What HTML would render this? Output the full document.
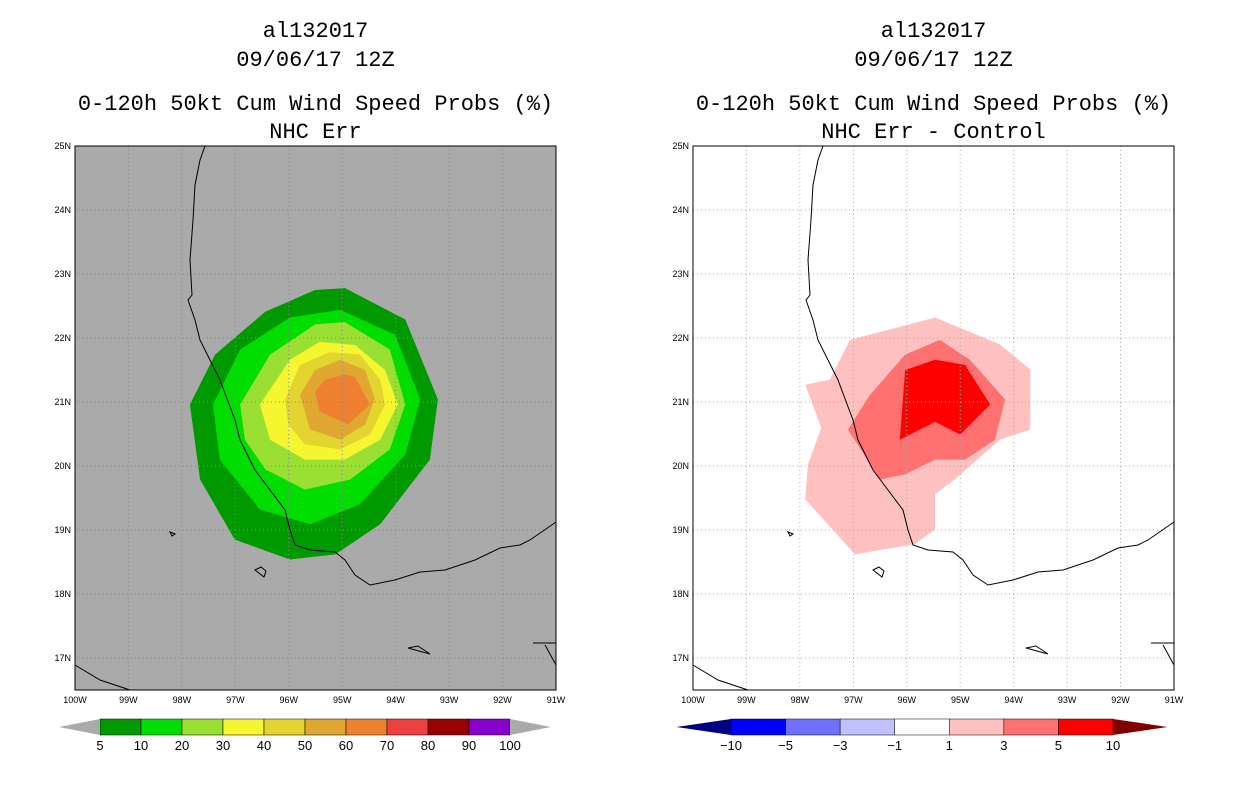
<!DOCTYPE html>
<html><head><meta charset="utf-8">
<style>
body{margin:0;background:#fff;width:1236px;height:800px;overflow:hidden;font-family:"Liberation Sans",sans-serif}
svg{position:absolute;left:0;top:0}
</style></head>
<body>
<svg id="s" width="1236" height="800"></svg>
<script>
// ---- data ----
const lonTicks=[100,99,98,97,96,95,94,93,92,91];
const latTicks=[25,24,23,22,21,20,19,18,17];
const leftLevels=[5,10,20,30,40,50,60,70,80,90,100];
const leftColors=["#009900","#00dd00","#99e033","#f5f530","#e3d430","#e0a830","#ee8030","#ee4040","#990000","#8800cc"];
const rightLevels=[-10,-5,-3,-1,1,3,5,10];
const rightColors=["#0000ff","#7070ff","#c0c0ff","#ffffff","#ffc0c0","#ff7070","#ff0000"];
// probability contour polygons [lon,lat]
const leftPolys=[
 {c:"#009900",p:[[-97.85,20.96],[-97.38,21.74],[-96.44,22.41],[-95.51,22.75],[-94.95,22.78],[-93.82,22.29],[-93.21,21.04],[-93.36,20.10],[-94.29,19.09],[-95.13,18.62],[-95.98,18.54],[-97.01,18.85],[-97.66,19.79]]},
 {c:"#00dd00",p:[[-97.42,20.96],[-96.91,21.82],[-95.98,22.32],[-95.04,22.44],[-94.01,22.05],[-93.54,21.04],[-93.82,20.18],[-94.67,19.40],[-95.60,19.09],[-96.54,19.32],[-97.29,20.10]]},
 {c:"#99e033",p:[[-96.91,20.96],[-96.35,21.74],[-95.51,22.21],[-94.95,22.25],[-94.11,21.82],[-93.82,20.96],[-94.11,20.26],[-94.85,19.79],[-95.70,19.63],[-96.44,19.95],[-96.82,20.41]]},
 {c:"#f5f530",p:[[-96.54,20.96],[-95.98,21.66],[-95.42,21.94],[-94.76,21.89],[-94.20,21.50],[-93.96,20.96],[-94.29,20.41],[-94.95,20.10],[-95.70,20.10],[-96.35,20.41]]},
 {c:"#e3d430",p:[[-96.07,21.04],[-95.79,21.58],[-95.23,21.78],[-94.67,21.74],[-94.29,21.35],[-94.20,20.96],[-94.48,20.49],[-95.04,20.26],[-95.70,20.34],[-96.01,20.65]]},
 {c:"#e0a830",p:[[-95.79,21.11],[-95.51,21.50],[-95.04,21.66],[-94.57,21.50],[-94.39,21.04],[-94.57,20.65],[-95.04,20.41],[-95.60,20.57]]},
 {c:"#ee8030",p:[[-95.51,21.16],[-95.32,21.35],[-94.95,21.43],[-94.76,21.39],[-94.48,20.96],[-94.89,20.65],[-95.42,20.85]]}
];
const rightPolys=[
 {c:"#ffc0c0",p:[[-97.90,21.27],[-97.44,21.35],[-97.06,21.97],[-95.47,22.32],[-94.26,21.90],[-93.69,21.51],[-93.69,20.57],[-94.26,20.41],[-95.10,19.79],[-95.47,19.56],[-95.47,19.01],[-95.85,18.78],[-96.97,18.62],[-97.90,19.48],[-97.85,20.02],[-97.60,20.60]]},
 {c:"#ff7070",p:[[-97.10,20.57],[-96.69,21.11],[-96.03,21.74],[-95.38,21.97],[-94.82,21.66],[-94.16,21.04],[-94.35,20.41],[-94.91,20.10],[-95.47,20.10],[-96.03,19.87],[-96.50,19.79]]},
 {c:"#ff0000",p:[[-96.13,20.41],[-96.03,21.50],[-95.47,21.66],[-94.91,21.58],[-94.44,20.96],[-95.00,20.49],[-95.47,20.69]]}
];
// basemap coastline (panel-relative pixels)
const coast=[[130,0],[125,14],[120,39],[118,74],[115,114],[117,149],[113,154],[120,174],[125,194],[135,214],[145,234],[160,274],[165,294],[180,324],[195,344],[210,364],[215,384],[220,399],[235,404],[260,406],[270,414],[280,429],[295,439],[320,434],[345,426],[370,424],[400,414],[425,402],[445,399],[455,394],[481,376]];
const coast2=[[0,519],[25,534],[55,544]];
const coast3=[[458,497],[481,497]];
const coast4=[[470,499],[481,519]];

// ---- drawing ----
const S=document.getElementById('s');const NS="http://www.w3.org/2000/svg";
function el(t,a,p){const e=document.createElementNS(NS,t);for(const k in a)e.setAttribute(k,a[k]);(p||S).appendChild(e);return e;}
function txt(x,y,s,size,anchor,name,fam){const t=el('text',{x:x,y:y,'font-size':size,'text-anchor':anchor||'middle',fill:'#000','font-family':fam||'"Liberation Sans",sans-serif'});t.textContent=s;return t;}
const W=481,H=544,Y0=146;
const MONO='"Liberation Mono",monospace';
function panel(X0,bg,polys,titles,name,gridCol){
 const g=el('g',{});
 const xs=lon=>X0+(lon+100)/9*W, ys=lat=>Y0+(25-lat)/8.5*H;
 el('rect',{x:X0,y:Y0,width:W,height:H,fill:bg},g);
 polys.forEach((pp,i)=>{const pg=el('polygon',{points:pp.p.map(q=>xs(q[0])+','+ys(q[1])).join(' '),fill:pp.c},g);});
 lonTicks.forEach(l=>{const x=xs(-l);if(l!=100&&l!=91)el('line',{x1:x,y1:Y0,x2:x,y2:Y0+H,stroke:gridCol,'stroke-dasharray':'1,3'},g);
  txt(x,Y0+H+13,l+'W',9,'middle','lon-label-'+l);});
 latTicks.forEach(l=>{const y=ys(l);if(l!=25)el('line',{x1:X0,y1:y,x2:X0+W,y2:y,stroke:gridCol,'stroke-dasharray':'1,3'},g);
  txt(X0-4,y+3,l+'N',9,'end','lat-label-'+l);});
 [coast,coast2,coast3,coast4].forEach(c=>{el('polyline',{points:c.map(q=>(X0+q[0])+','+(Y0+q[1])).join(' '),fill:'none',stroke:'#000','stroke-width':1},g);});
 el('path',{d:`M${X0+180} ${Y0+424} l6 -3 l5 4 l-2 6 z M${X0+95} ${Y0+386} l5 2 l-3 2 z M${X0+333} ${Y0+502} l10 -2 l12 8 z`,fill:'none',stroke:'#000'},g);
 el('rect',{x:X0,y:Y0,width:W,height:H,fill:'none',stroke:'#000'},g);
 const cx=X0+W/2;
 titles.forEach((t,i)=>txt(cx,[37,66,110,138][i],t,22,'middle','title-line-'+i,MONO));
}
panel(75,'#aaaaaa',leftPolys,['al132017','09/06/17 12Z','0-120h 50kt Cum Wind Speed Probs (%)','NHC Err'],'left-map','#888');
panel(693,'#ffffff',rightPolys,['al132017','09/06/17 12Z','0-120h 50kt Cum Wind Speed Probs (%)','NHC Err - Control'],'right-map','#aaa');

function colorbar(x0,x1,y,levels,colors,lc,rc,name){
 const g=el('g',{});
 const n=colors.length;
 const step=(x1-x0)/n;
 colors.forEach((c,i)=>el('rect',{x:x0+i*step,y:y,width:step,height:16,fill:c,stroke:'#000','stroke-width':0.5},g));
 el('polygon',{points:`${x0},${y} ${x0},${y+16} ${x0-step},${y+8}`,fill:lc},g);
 el('polygon',{points:`${x1},${y} ${x1},${y+16} ${x1+step},${y+8}`,fill:rc},g);
 levels.forEach((v,i)=>txt(x0+i*step,y+31,String(v).replace('-','\u2212'),13,'middle','cbar-label-'+v));
}
colorbar(100,510,719,leftLevels,leftColors,'#aaaaaa','#aaaaaa','left-colorbar');
colorbar(731,1113,719,rightLevels,rightColors,'#000080','#800000','right-colorbar');
</script>
</body></html>
